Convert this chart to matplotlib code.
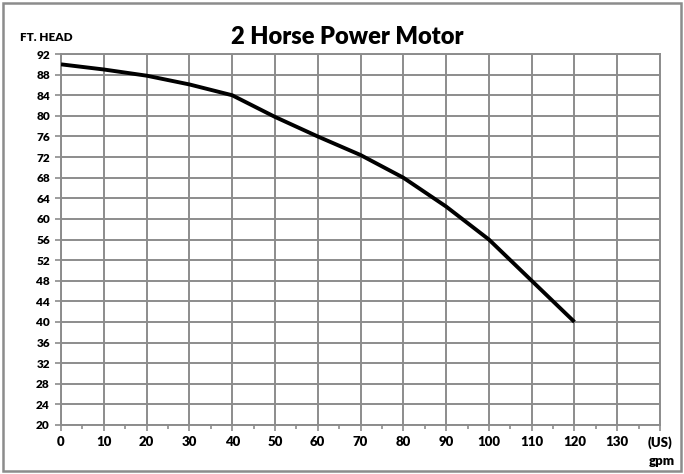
import matplotlib
matplotlib.use('Agg')
import matplotlib.pyplot as plt
from matplotlib.patches import Rectangle
from matplotlib.ticker import MultipleLocator

plt.rcParams['font.family'] = ['Lato', 'DejaVu Sans']

# pump curve
flow_gpm = [0, 10, 20, 30, 40, 50, 60, 70, 80, 90, 100, 110, 120]
head_ft = [90, 89, 87.8, 86.1, 84, 79.8, 76, 72.4, 68, 62.4, 56, 48, 40]

x_ticks = list(range(0, 141, 10))
x_labels = [str(v) for v in range(0, 131, 10)] + ['(US)']
y_ticks = list(range(20, 93, 4))

grid_col = '#8c8c8c'

fig = plt.figure(figsize=(6.84, 4.74), dpi=100)
ax = fig.add_axes([0.0892, 0.1034, 0.8758, 0.7826])

ax.plot(flow_gpm, head_ft, color='black', lw=2.8, solid_capstyle='butt', zorder=3)

ax.set_xlim(0, 140)
ax.set_ylim(20, 92)
ax.set_xticks(x_ticks)
ax.set_xticklabels(x_labels, fontsize=9.5, fontweight='heavy')
ax.xaxis.set_minor_locator(MultipleLocator(5))
ax.set_yticks(y_ticks)
ax.set_yticklabels([str(v) for v in y_ticks], fontsize=8.5, fontweight='heavy')

ax.grid(True, which='major', color=grid_col, lw=1.4)
for s in ax.spines.values():
    s.set_color(grid_col)
    s.set_linewidth(1.4)
ax.tick_params(axis='both', which='major', length=4, width=1.2, color=grid_col, pad=4)
ax.tick_params(axis='x', which='minor', length=3, width=1.2, color=grid_col)
ax.tick_params(axis='x', which='major', pad=4)

fig.text(0.507, 0.922, '2 Horse Power Motor', ha='center', va='center',
         fontsize=17, fontweight='heavy')
fig.text(0.029, 0.921, 'FT. HEAD', ha='left', va='center', fontsize=8.5, fontweight='heavy')
fig.text(0.968, 0.027, 'gpm', ha='center', va='center', fontsize=9.5, fontweight='heavy')

fig.patches.append(Rectangle((0.004, 0.006), 0.992, 0.988, transform=fig.transFigure,
                             fill=False, edgecolor=grid_col, lw=1.8))

fig.savefig('out.png', dpi=100)
